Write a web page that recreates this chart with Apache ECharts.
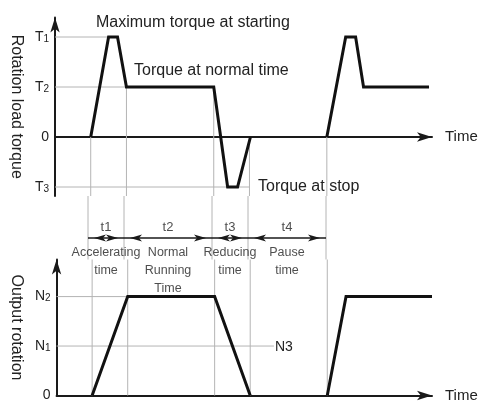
<!DOCTYPE html>
<html><head><meta charset="utf-8">
<script src="https://cdn.jsdelivr.net/npm/echarts@6/dist/echarts.min.js"></script>
<style>html,body{margin:0;padding:0;background:#fff}#c{width:487px;height:403px}</style>
</head><body><div id="c"></div>
<script>
// ---- data ----
// torque cycle 1 and cycle 2 (time, level)
const torqueX1 = [9, 13.5, 15.75, 18, 40, 43.5, 46, 49.25];
const torqueY1 = [0, 2, 2, 1, 1, -1, -1, 0];
const torqueX2 = [68.5, 73.25, 75.75, 77.75, 94.25];
const torqueY2 = [0, 2, 2, 1, 1];
// output rotation cycle 1 and cycle 2
const rotationX1 = [9, 18, 40, 49];
const rotationY1 = [0, 2, 2, 0];
const rotationX2 = [68.5, 73.25, 95];
const rotationY2 = [0, 2, 2];
const torqueTicks = [-1, 0, 1, 2];
const torqueTickNames = ['T3', '0', 'T2', 'T1'];
const rotationTicks = [0, 1, 2];
const rotationTickNames = ['0', 'N1', 'N2'];
// reference levels: [level, end time]
const torqueRefs = [[2, 13.5], [1, 18], [-1, 49]];
const rotationRefs = [[2, 18], [1, 55]];
// phase boundaries and torque level where the boundary line starts
const phaseTimes = [9, 18, 40, 49, 68.5];
const phaseTopLevel = [0, 1, 1, 0, 0];
const phaseNames = ['t1', 't2', 't3', 't4'];
const phaseDesc = ['Accelerating\ntime', 'Normal\nRunning\nTime', 'Reducing\ntime', 'Pause\ntime'];

const TOP_MIN = -1.18, TOP_MAX = 2.39, BOT_MAX = 2.75, MID_MAX = 1.27, ARROW_Y = 0.43;
const GRAY = '#b4b4b4', INK = '#1a1a1a';
const FONT = '"Liberation Sans", Arial, sans-serif';

function fmtTick(names, ticks) {
  return function (v) {
    const i = ticks.indexOf(Math.round(v * 100) / 100);
    if (i < 0) return '';
    const n = names[i];
    if (n.length === 1) return '{b|' + n + '}';
    return '{b|' + n[0] + '}{s|' + n.slice(1) + '}';
  };
}
const tickRich = {
  b: { fontSize: 14, color: '#222', fontFamily: FONT },
  s: { fontSize: 10, color: '#222', fontFamily: FONT, verticalAlign: 'bottom', padding: [4, 0, 0, 0] }
};

function xAxisOf(idx, show) {
  return {
    gridIndex: idx, type: 'value', min: 0, max: 95,
    show: true,
    axisLine: { show: show, onZero: true, symbol: ['none', 'arrow'], symbolSize: [7, 15],
      lineStyle: { color: INK, width: 2 } },
    axisTick: { show: false }, axisLabel: { show: false }, splitLine: { show: false },
    name: show ? 'Time' : '', nameLocation: 'end', nameGap: 13,
    nameTextStyle: { fontSize: 15, color: '#222', fontFamily: FONT, align: 'left', verticalAlign: 'middle' }
  };
}
const zip = (xs, ys) => xs.map((x, i) => [x, ys[i]]);

const series = [];
// gray reference lines
torqueRefs.forEach(r => series.push({ type: 'line', xAxisIndex: 0, yAxisIndex: 0, symbol: 'none', silent: true,
  data: [[0, r[0]], [r[1], r[0]]], lineStyle: { color: GRAY, width: 1 }, z: 1 }));
rotationRefs.forEach(r => series.push({ type: 'line', xAxisIndex: 1, yAxisIndex: 1, symbol: 'none', silent: true,
  data: [[0, r[0]], [r[1], r[0]]], lineStyle: { color: GRAY, width: 1 }, z: 1 }));
// phase boundary lines
phaseTimes.forEach((t, i) => {
  series.push({ type: 'line', xAxisIndex: 0, yAxisIndex: 0, symbol: 'none', silent: true,
    data: [[t, phaseTopLevel[i]], [t, TOP_MIN]], lineStyle: { color: GRAY, width: 1 }, z: 1 });
  series.push({ type: 'line', xAxisIndex: 2, yAxisIndex: 2, symbol: 'none', silent: true,
    data: [[t, MID_MAX], [t, 0]], lineStyle: { color: GRAY, width: 1 }, z: 1 });
  series.push({ type: 'line', xAxisIndex: 1, yAxisIndex: 1, symbol: 'none', silent: true,
    data: [[t, BOT_MAX], [t, 0]], lineStyle: { color: GRAY, width: 1 }, z: 1 });
});
// main curves
[[0, zip(torqueX1, torqueY1)], [0, zip(torqueX2, torqueY2)], [1, zip(rotationX1, rotationY1)], [1, zip(rotationX2, rotationY2)]]
  .forEach(([g, d]) => series.push({ type: 'line', xAxisIndex: g, yAxisIndex: g, symbol: 'none', clip: false,
    data: d, lineStyle: { color: '#111', width: 3, join: 'miter' }, z: 5 }));
// dimension arrows + labels
const mids = phaseNames.map((n, i) => [(phaseTimes[i] + phaseTimes[i + 1]) / 2, ARROW_Y]);
const arrowEnd = { symbolSize: [5.25, 12], symbolOffset: [0, 6], itemStyle: { color: '#1a1a1a' } };
series.push({ type: 'scatter', xAxisIndex: 2, yAxisIndex: 2, symbolSize: 0, silent: true, clip: false,
  color: '#1a1a1a',
  data: mids.map((m, i) => ({ value: m, name: phaseNames[i] })),
  label: { show: true, position: 'top', distance: 4, formatter: p => p.name,
    fontSize: 13, color: '#222', fontFamily: FONT },
  markLine: {
    silent: true, symbol: ['arrow', 'arrow'], symbolSize: [5.25, 12], symbolOffset: [[0, 6], [0, 6]],
    itemStyle: { color: '#1a1a1a' },
    label: { show: false }, lineStyle: { color: '#1a1a1a', width: 1.5, type: 'solid' },
    data: phaseNames.map((n, i) => [
      Object.assign({ coord: [phaseTimes[i], ARROW_Y] }, arrowEnd),
      Object.assign({ coord: [phaseTimes[i + 1], ARROW_Y] }, arrowEnd)])
  }
});
series.push({ type: 'scatter', xAxisIndex: 2, yAxisIndex: 2, symbolSize: 0, silent: true, clip: false,
  data: mids.map((m, i) => ({ value: m, name: phaseDesc[i] })),
  label: { show: true, position: 'bottom', distance: 6, formatter: p => p.name, lineHeight: 18,
    fontSize: 12.5, color: '#222', fontFamily: FONT }
});

const option = {
  animation: false,
  grid: [
    { left: 52, top: 17.5, width: 380, height: 178.5 },
    { left: 52, top: 259.5, width: 380, height: 137.5 },
    { left: 52, top: 196, width: 380, height: 63.5 }
  ],
  xAxis: [xAxisOf(0, true), xAxisOf(1, true), Object.assign(xAxisOf(2, false), { show: false })],
  yAxis: [
    { gridIndex: 0, type: 'value', min: TOP_MIN, max: TOP_MAX,
      axisLine: { show: true, onZero: false, symbol: ['none', 'arrow'], symbolSize: [7, 15], lineStyle: { color: INK, width: 2 } },
      axisTick: { show: false, customValues: torqueTicks }, splitLine: { show: false },
      axisLabel: { customValues: torqueTicks, formatter: fmtTick(torqueTickNames, torqueTicks), rich: tickRich, margin: 6 },
      name: 'Rotation load torque', nameLocation: 'middle', nameRotate: -90, nameGap: 17,
      nameTextStyle: { fontSize: 16, color: '#222', fontFamily: FONT } },
    { gridIndex: 1, type: 'value', min: 0, max: BOT_MAX,
      axisLine: { show: true, onZero: false, symbol: ['none', 'arrow'], symbolSize: [7, 15], lineStyle: { color: INK, width: 2 } },
      axisTick: { show: false, customValues: rotationTicks }, splitLine: { show: false },
      axisLabel: { customValues: rotationTicks, formatter: fmtTick(rotationTickNames, rotationTicks), rich: tickRich, margin: 6 },
      name: 'Output rotation', nameLocation: 'middle', nameRotate: -90, nameGap: 17,
      nameTextStyle: { fontSize: 16, color: '#222', fontFamily: FONT } },
    { gridIndex: 2, type: 'value', min: 0, max: MID_MAX, show: false }
  ],
  graphic: [
    { type: 'text', left: 96, top: 15, style: { text: 'Maximum torque at starting', fontSize: 16, fill: '#222', fontFamily: FONT } },
    { type: 'text', left: 134, top: 63, style: { text: 'Torque at normal time', fontSize: 16, fill: '#222', fontFamily: FONT } },
    { type: 'text', left: 258, top: 179, style: { text: 'Torque at stop', fontSize: 16, fill: '#222', fontFamily: FONT } },
    { type: 'text', left: 275, top: 340, style: { text: 'N3', fontSize: 14, fill: '#222', fontFamily: FONT } }
  ],
  series: series
};
echarts.init(document.getElementById('c'), null, { renderer: 'canvas' }).setOption(option);
</script></body></html>
